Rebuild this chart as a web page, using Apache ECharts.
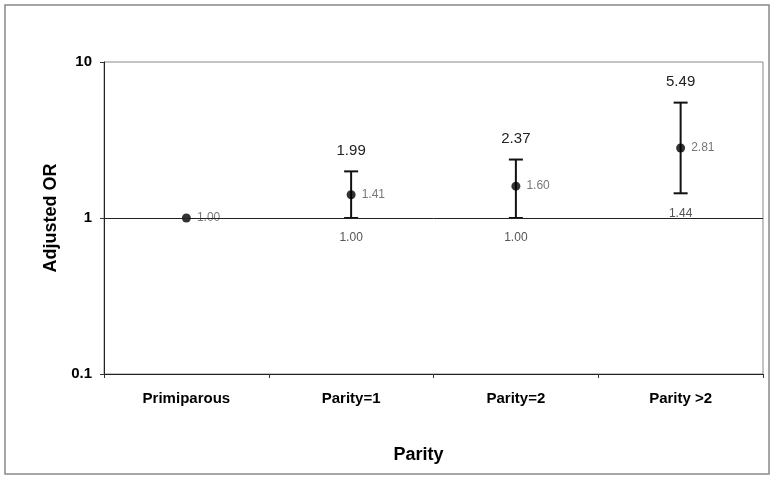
<!DOCTYPE html>
<html>
<head>
<meta charset="utf-8">
<script src="https://cdn.jsdelivr.net/npm/echarts@6/dist/echarts.min.js"></script>
<style>
  html, body { margin: 0; padding: 0; background: #fff; }
  #chart { width: 776px; height: 480px; }
</style>
</head>
<body>
<div id="chart"></div>
<script>
// Data
const categories = ['Primiparous', 'Parity=1', 'Parity=2', 'Parity >2'];
const oddsRatio = [1.00, 1.41, 1.60, 2.81];
const lowerCI = [null, 1.00, 1.00, 1.44];
const upperCI = [null, 1.99, 2.37, 5.49];
const yTicks = [0.1, 1, 10];

const chart = echarts.init(document.getElementById('chart'));

// Error bars: vertical line with caps, and the CI limits as text
const renderErrorBar = (params, api) => {
    const lo = api.value(1);
    const hi = api.value(2);
    if (lo == null || hi == null || isNaN(lo) || isNaN(hi)) return;
    const top = api.coord([api.value(0), hi]);
    const bot = api.coord([api.value(0), lo]);
    const half = 7;
    const style = { stroke: '#111', lineWidth: 2 };
    return {
        type: 'group',
        children: [
            { type: 'line', shape: { x1: top[0], y1: top[1], x2: bot[0], y2: bot[1] }, style },
            { type: 'line', shape: { x1: top[0] - half, y1: top[1], x2: top[0] + half, y2: top[1] }, style },
            { type: 'line', shape: { x1: bot[0] - half, y1: bot[1], x2: bot[0] + half, y2: bot[1] }, style },
            {
                type: 'text',
                style: {
                    text: hi.toFixed(2), x: top[0], y: top[1] - 21,
                    align: 'center', verticalAlign: 'middle',
                    font: '15px "Liberation Sans", Arial, sans-serif', fill: '#222'
                }
            },
            {
                type: 'text',
                style: {
                    text: lo.toFixed(2), x: bot[0], y: bot[1] + 20,
                    align: 'center', verticalAlign: 'middle',
                    font: '12px "Liberation Sans", Arial, sans-serif', fill: '#555'
                }
            }
        ]
    };
};

const option = {
    animation: false,
    textStyle: { fontFamily: '"Liberation Sans", Arial, sans-serif' },
    graphic: [
        {
            type: 'rect',
            shape: { x: 5, y: 5, width: 764, height: 469 },
            style: { fill: 'none', stroke: '#888', lineWidth: 1.5 },
            silent: true
        }
    ],
    grid: {
        left: 104,
        right: 13,
        top: 62,
        bottom: 106,
        show: true,
        borderColor: '#888',
        borderWidth: 1
    },
    xAxis: {
        type: 'category',
        data: categories,
        boundaryGap: true,
        name: 'Parity',
        nameLocation: 'middle',
        nameGap: 72,
        nameTextStyle: { fontSize: 18, fontWeight: 'bold', color: '#000', padding: [0, 30, 0, 0] },
        axisLine: { lineStyle: { color: '#222', width: 1 } },
        axisTick: { show: true, length: 4, lineStyle: { color: '#333' } },
        axisLabel: { margin: 17, fontSize: 15, fontWeight: 'bold', color: '#000' },
        splitLine: { show: false }
    },
    yAxis: {
        type: 'log',
        logBase: 10,
        min: yTicks[0],
        max: yTicks[yTicks.length - 1],
        interval: 1,
        name: 'Adjusted OR',
        nameLocation: 'middle',
        nameGap: 44,
        nameRotate: 90,
        nameTextStyle: { fontSize: 18, fontWeight: 'bold', color: '#000' },
        axisLine: { show: true, lineStyle: { color: '#222', width: 1 } },
        axisTick: { show: true, length: 4, lineStyle: { color: '#333' } },
        axisLabel: {
            margin: 12, fontSize: 15, fontWeight: 'bold', color: '#000',
            formatter: v => String(+v.toFixed(1))
        },
        splitLine: { show: false }
    },
    series: [
        {
            type: 'custom',
            renderItem: renderErrorBar,
            data: categories.map((c, i) => [i, lowerCI[i], upperCI[i]]),
            z: 3,
            silent: true
        },
        {
            type: 'scatter',
            data: categories.map((c, i) => [i, oddsRatio[i]]),
            symbol: 'circle',
            symbolSize: 9,
            itemStyle: { color: '#000' },
            z: 4,
            label: {
                show: true,
                position: 'right',
                distance: 6,
                fontSize: 12,
                color: '#555',
                formatter: p => p.value[1].toFixed(2)
            },
            markLine: {
                silent: true,
                symbol: 'none',
                label: { show: false },
                lineStyle: { color: '#222', width: 1, type: 'solid' },
                data: [{ yAxis: 1 }]
            }
        }
    ]
};

chart.setOption(option);
window.addEventListener('resize', () => chart.resize());
</script>
</body>
</html>
